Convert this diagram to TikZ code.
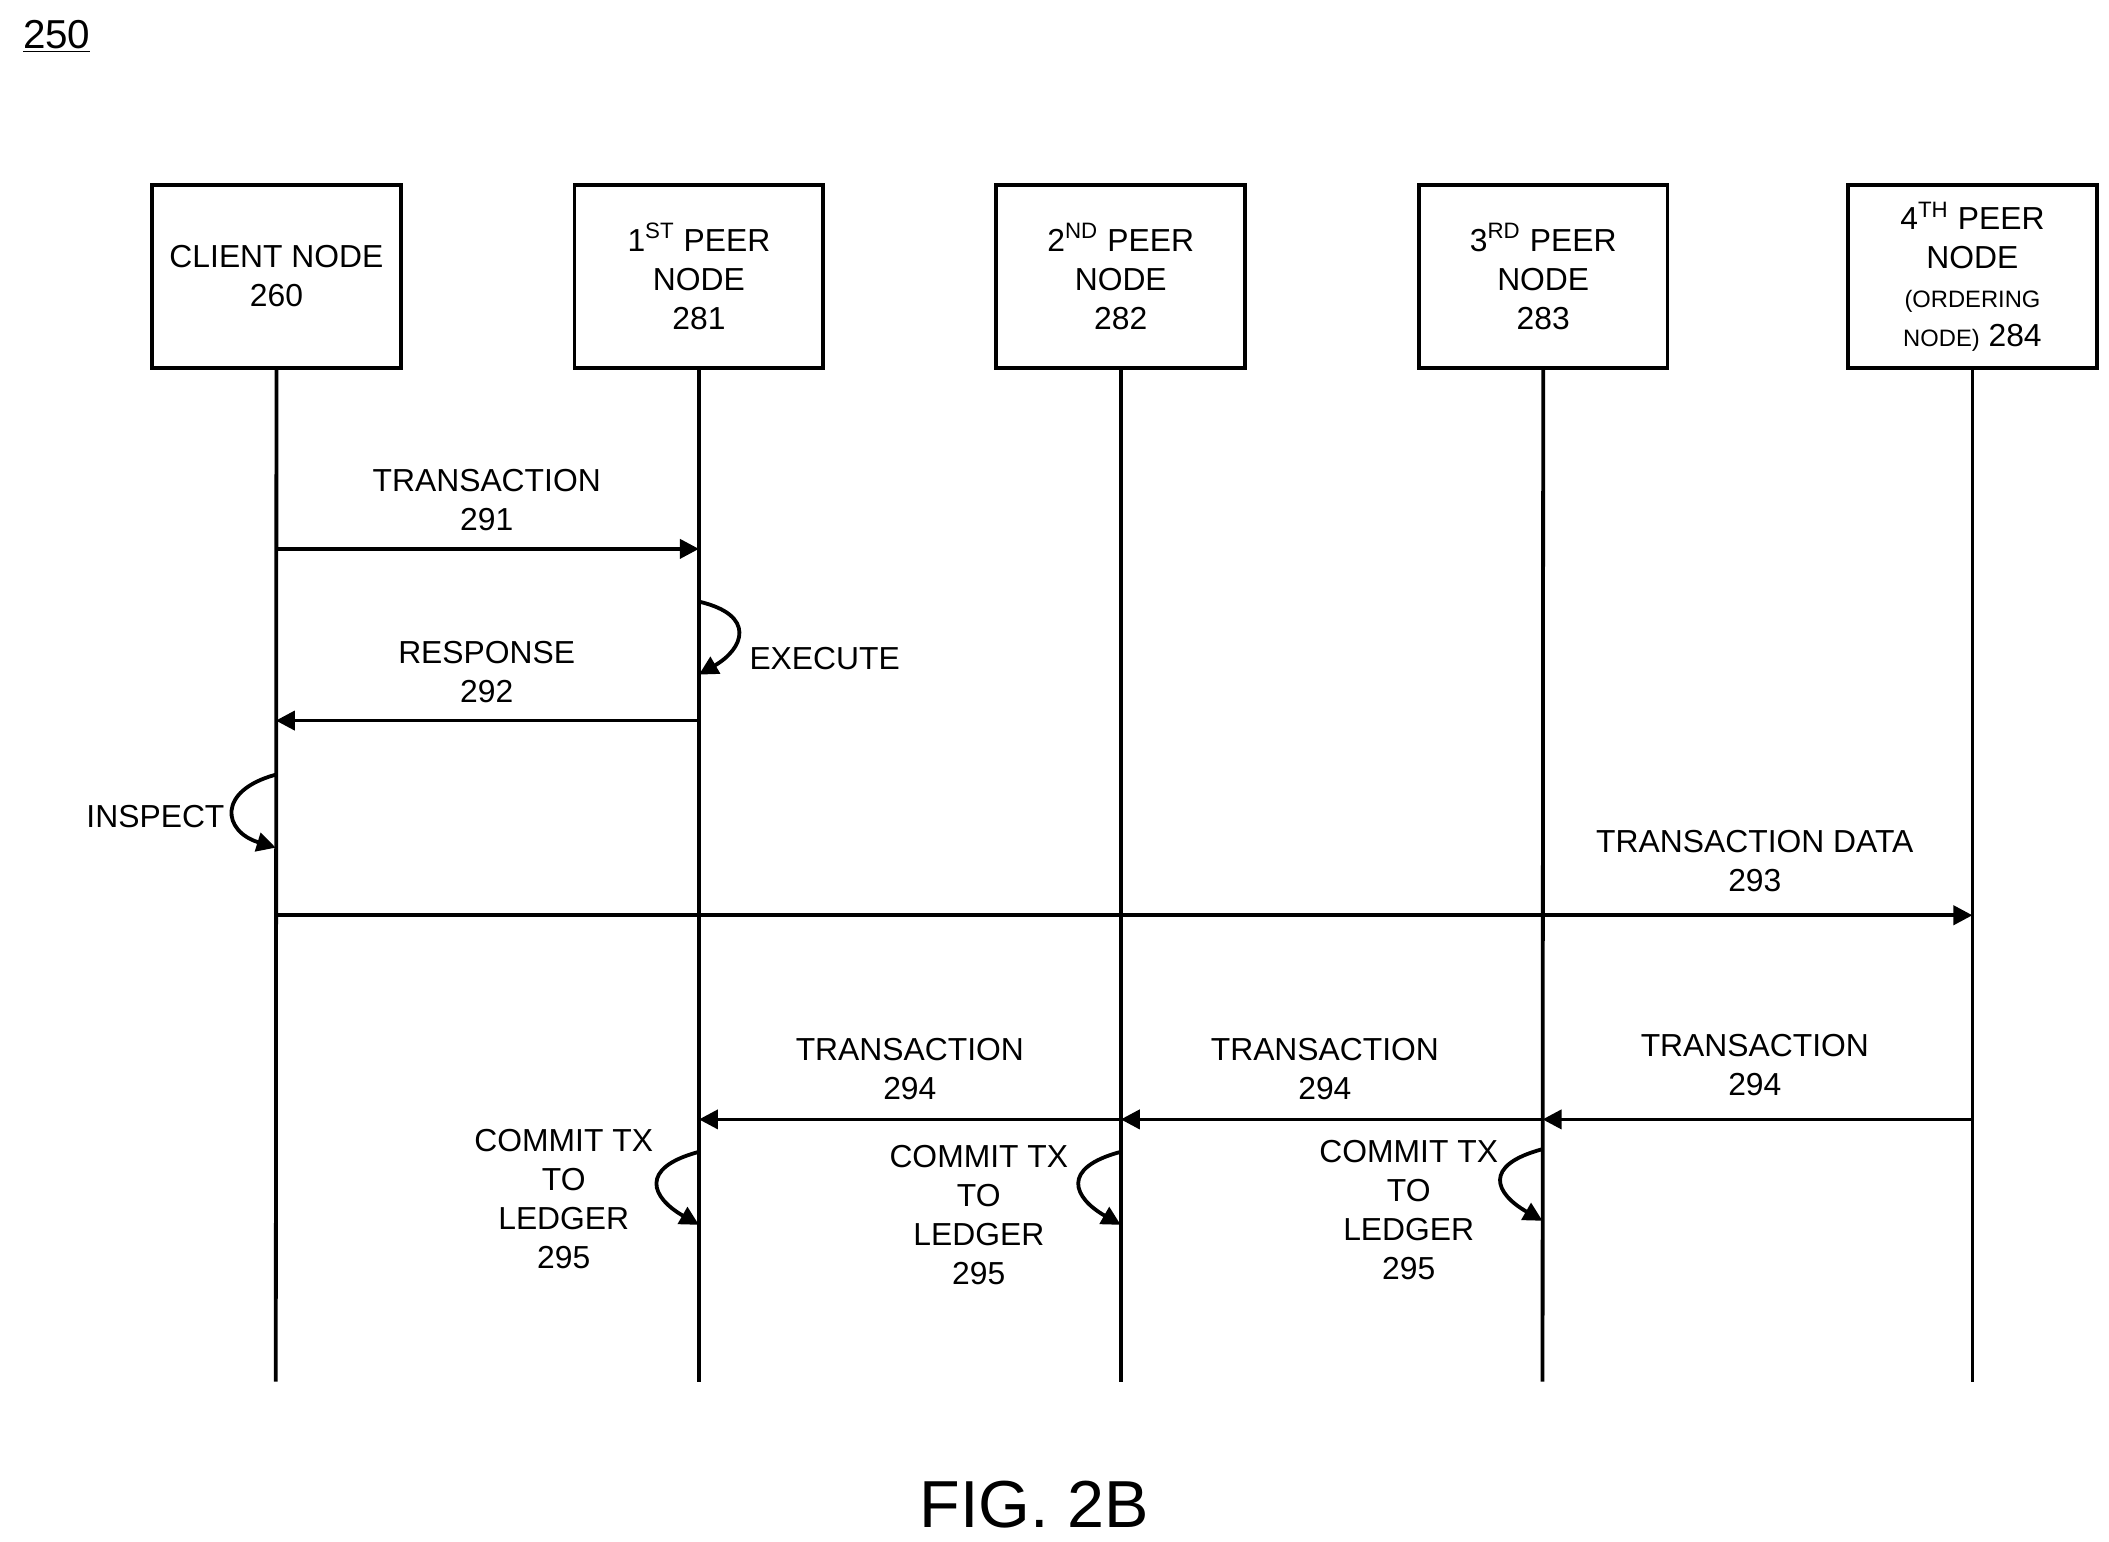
\documentclass[tikz,border=0pt]{standalone}
\usepackage{fontspec}
\setmainfont{Liberation Sans}
\usetikzlibrary{arrows.meta}

\tikzset{
  box/.style={draw, line width=1.6pt, minimum width=3.68cm, minimum height=2.7cm, align=center, inner sep=0pt},
  life/.style={line width=1.6pt},
  msg/.style={line width=1.6pt, -{Triangle[length=8pt,width=8pt]}},
  loop/.style={line width=1.6pt, -{Triangle[length=8pt,width=8pt]}},
  lbl/.style={align=center, inner sep=0pt}
}
\newcommand{\txt}{\fontsize{13.4}{16.4}\selectfont}
\newcommand{\sm}{\fontsize{10}{12}\selectfont}

\begin{document}
\begin{tikzpicture}[x=0.02cm, y=-0.02cm, font=\txt]
  \useasboundingbox (0,0) rectangle (1560,1140);

  % figure number
  \node[lbl, font=\fontsize{17}{20}\selectfont] (fignum) at (42,27) {\underline{250}};

  % the participants
  \node[box] (client) at (204.5,204.5) {CLIENT NODE\\260};
  \node[box] (peer1) at (517,204.5) {1\textsuperscript{ST} PEER\\NODE\\281};
  \node[box] (peer2) at (829,204.5) {2\textsuperscript{ND} PEER\\NODE\\282};
  \node[box] (peer3) at (1141.5,204.5) {3\textsuperscript{RD} PEER\\NODE\\283};
  \node[box] (peer4) at (1459,204.5) {4\textsuperscript{TH} PEER\\NODE\\{\sm (ORDERING}\\{\sm NODE)} 284};

  % lifelines
  \foreach \n/\x in {client/204, peer1/517, peer2/829, peer3/1141, peer4/1459} {
    \coordinate (\n end) at (\x,1022);
    \draw[life] (\n.south) -- (\n end);
  }

  % transaction 291
  \coordinate (t1a) at (204,406);
  \coordinate (t1b) at (517,406);
  \draw[msg] (t1a) -- (t1b);
  \node[lbl] (t1) at (360,370) {TRANSACTION\\291};

  % execute
  \coordinate (ex1) at (517,445);
  \coordinate (ex2) at (517,499);
  \draw[loop] (ex1) .. controls (560,455) and (550,480) .. (ex2);
  \node[lbl] (exe) at (610,487) {EXECUTE};

  % response 292
  \coordinate (r1a) at (517,533);
  \coordinate (r1b) at (204,533);
  \draw[msg] (r1a) -- (r1b);
  \node[lbl] (resp) at (360,497) {RESPONSE\\292};

  % inspect
  \coordinate (in1) at (204,573);
  \coordinate (in2) at (204,627);
  \draw[loop] (in1) .. controls (160,585) and (165,615) .. (in2);
  \node[lbl] (insp) at (115,604) {INSPECT};

  % transaction data 293
  \coordinate (d1a) at (204,677);
  \coordinate (d1b) at (1459,677);
  \draw[msg] (d1a) -- (d1b);
  \node[lbl] (tdata) at (1298,637) {TRANSACTION DATA\\293};

  % transaction 294
  \coordinate (p4t) at (1459,828);
  \coordinate (p3t) at (1141,828);
  \coordinate (p2t) at (829,828);
  \coordinate (p1t) at (517,828);
  \draw[msg] (p4t) -- (p3t);
  \draw[msg] (p3t) -- (p2t);
  \draw[msg] (p2t) -- (p1t);
  \node[lbl] (tx3) at (1298,788) {TRANSACTION\\294};
  \node[lbl] (tx2) at (980,791) {TRANSACTION\\294};
  \node[lbl] (tx1) at (673,791) {TRANSACTION\\294};

  % commit to ledger
  \foreach \n/\x/\ya/\yb/\lx/\ly in {c1/517/852/906/417/887, c2/829/852/906/724/899, c3/1141/850/903/1042/895} {
    \coordinate (\n a) at (\x,\ya);
    \coordinate (\n b) at (\x,\yb);
    \draw[loop] (\n a) .. controls (\x-45,\ya+12) and (\x-35,\yb-20) .. (\n b);
    \node[lbl] (\n) at (\lx,\ly) {COMMIT TX\\TO\\LEDGER\\295};
  }

  % caption
  \node[lbl, font=\fontsize{28}{32}\selectfont] (cap) at (765,1113) {FIG. 2B};
\end{tikzpicture}
\end{document}
